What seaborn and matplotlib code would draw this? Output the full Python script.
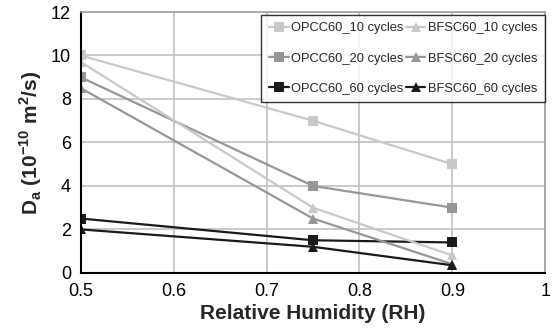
import matplotlib
matplotlib.use("Agg")
import matplotlib.pyplot as plt
import seaborn as sns
import pandas as pd

rh = [0.5, 0.75, 0.9]
opcc_10 = [10.0, 7.0, 5.0]
bfsc_10 = [9.7, 3.0, 0.8]
opcc_20 = [9.0, 4.0, 3.0]
bfsc_20 = [8.5, 2.5, 0.4]
opcc_60 = [2.5, 1.5, 1.4]
bfsc_60 = [2.0, 1.2, 0.35]

series = [
    ("OPCC60_10 cycles", opcc_10, "#c8c8c8", "s"),
    ("OPCC60_20 cycles", opcc_20, "#969696", "s"),
    ("OPCC60_60 cycles", opcc_60, "#1a1a1a", "s"),
    ("BFSC60_10 cycles", bfsc_10, "#c8c8c8", "^"),
    ("BFSC60_20 cycles", bfsc_20, "#969696", "^"),
    ("BFSC60_60 cycles", bfsc_60, "#1a1a1a", "^"),
]

rows = []
for name, vals, _, _ in series:
    for x, y in zip(rh, vals):
        rows.append({"RH": x, "Da": y, "series": name})
df = pd.DataFrame(rows)

sns.set_style("white")
plt.rcParams["font.family"] = ["Liberation Sans", "DejaVu Sans"]

fig = plt.figure(figsize=(5.53, 3.34), dpi=100)
ax = fig.add_axes([0.146, 0.183, 0.840, 0.781])

for name, _, color, marker in series:
    sns.lineplot(data=df[df["series"] == name], x="RH", y="Da", ax=ax,
                 color=color, marker=marker, markersize=7, linewidth=1.6,
                 markeredgewidth=0, label=name)

ax.set_xlim(0.5, 1.0)
ax.set_ylim(0, 12)
ax.set_xticks([0.5, 0.6, 0.7, 0.8, 0.9, 1.0])
ax.set_xticklabels(["0.5", "0.6", "0.7", "0.8", "0.9", "1"])
ax.set_yticks(range(0, 13, 2))
ax.grid(True, color="#c0c0c0", linewidth=1.2)
ax.set_axisbelow(True)
for side in ["top", "right"]:
    ax.spines[side].set_color("#a0a0a0")
    ax.spines[side].set_linewidth(1.2)
for side in ["left", "bottom"]:
    ax.spines[side].set_color("black")
    ax.spines[side].set_linewidth(1.5)
ax.tick_params(axis="x", labelsize=13, length=0, pad=7, colors="black")
ax.tick_params(axis="y", labelsize=13, length=0, pad=7, colors="black")

ax.set_xlabel("Relative Humidity (RH)", fontsize=15, fontweight="bold", labelpad=3)
ax.set_ylabel(r"D$_\mathregular{a}$ (10$^\mathregular{-10}$ m$^\mathregular{2}$/s)",
              fontsize=15, fontweight="bold", labelpad=5)

leg = ax.legend(ncol=2, loc="upper right", fontsize=9.3, frameon=True,
                fancybox=False, edgecolor="black", handlelength=1.5,
                handletextpad=0.2, columnspacing=0.2, borderpad=0.6,
                labelspacing=1.4, bbox_to_anchor=(1.0, 0.99),
                borderaxespad=0)
leg.get_frame().set_linewidth(1.0)

fig.savefig("out.png", dpi=100)
